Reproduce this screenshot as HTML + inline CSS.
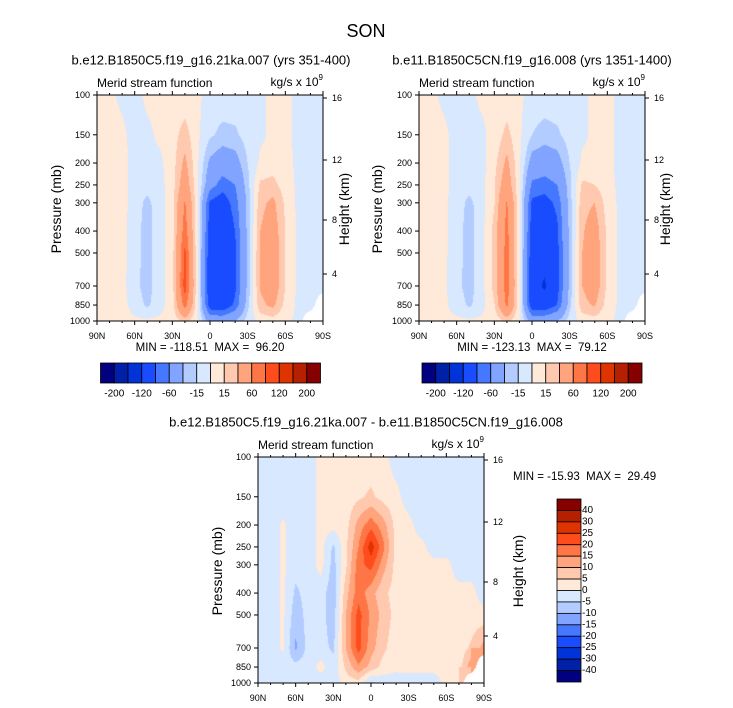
<!DOCTYPE html>
<html><head><meta charset="utf-8"><style>
body{margin:0;background:#fff;width:733px;height:708px;position:relative;overflow:hidden;font-family:"Liberation Sans",sans-serif}
canvas{position:absolute}
svg{position:absolute;left:0;top:0}
</style></head><body>
<canvas id="c1" width="226" height="226" style="left:97px;top:95px"></canvas>
<canvas id="c2" width="226" height="226" style="left:419px;top:95px"></canvas>
<canvas id="c3" width="226" height="226" style="left:258px;top:457px"></canvas>
<svg id="ov" width="733" height="708"></svg>
<script>
const lats=['90N','80N','70N','60N','50N','40N','30N','20N','10N','0','10S','20S','30S','40S','50S','60S','70S','80S','90S'];
const levels=[100,150,200,250,300,400,500,700,850,1000];
const xTicks=['90N','60N','30N','0','30S','60S','90S'];
const pTicks=[100,150,200,250,300,400,500,700,850,1000];
const hTicks=[16,12,8,4];
const hTickOffsets=[3,65,125,179];
const colors=['#000080','#0020a8','#0034d8','#1a4cff','#4578ff','#80a4ff','#b3ccff','#d8e8ff','#ffe9d8','#ffc9b0','#ffa47c','#ff7646','#ff4c1c','#e03400','#b42000','#860000'];
const bounds1=[-200,-160,-120,-80,-60,-30,-15,0,15,30,60,80,120,160,200];
const bounds3=[-40,-30,-25,-20,-15,-10,-5,0,5,10,15,20,25,30,40];
const hLabels=['-200','-120','-60','-15','15','60','120','200'];
const vLabels=['40','30','25','20','15','10','5','0','-5','-10','-15','-20','-25','-30','-40'];
const field1=[
[3,3,-3,-5,3,3,5,5,3,-5,-5,-5,-5,-3,3,3,-3,-5,-5],
[3,5,3,-5,-3,3,8,22,3,-12,-20,-18,-8,-3,3,3,-3,-5,-5],
[3,5,5,-5,-5,-3,8,35,3,-35,-45,-40,-15,3,8,5,-3,-5,-5],
[3,5,5,-5,-8,-5,8,45,3,-50,-70,-60,-20,18,20,8,-3,-5,-5],
[3,5,5,-6,-20,-5,8,62,3,-85,-95,-70,-25,25,35,12,-3,-5,-5],
[3,5,5,-8,-22,-5,8,72,3,-95,-105,-80,-25,30,42,15,-3,-5,-5],
[3,5,5,-8,-22,-5,8,85,3,-100,-110,-85,-25,32,45,15,-3,-5,-5],
[3,5,5,-10,-22,-5,8,90,3,-105,-112,-85,-25,32,45,15,-3,-5,-5],
[3,5,5,-6,-18,-5,8,70,3,-95,-100,-75,-20,25,35,10,-3,-5,null],
[3,5,5,3,3,3,5,20,3,-40,-40,-30,-8,5,8,3,-3,null,null]];
const field2=[
[3,3,-3,-5,-3,3,3,5,3,-5,-5,-5,-5,-3,3,3,-3,-5,-5],
[3,3,3,-5,-5,-3,5,20,3,-15,-22,-18,-8,-3,3,3,-3,-5,-5],
[3,3,3,-5,-5,-5,10,35,3,-40,-45,-40,-15,3,5,3,-3,-5,-5],
[3,3,3,-5,-8,-5,14,45,3,-65,-70,-60,-20,18,15,5,-3,-5,-5],
[3,3,3,-6,-20,-5,14,62,3,-85,-90,-75,-22,25,30,8,-3,-5,-5],
[3,3,3,-8,-22,-5,20,68,3,-95,-100,-85,-25,28,40,12,-3,-5,-5],
[3,3,3,-8,-22,-5,20,70,3,-100,-105,-88,-25,30,42,12,-3,-5,-5],
[3,3,3,-10,-22,-5,20,72,3,-105,-125,-90,-25,30,42,12,-3,-5,-5],
[3,3,3,-6,-18,-5,14,65,3,-100,-100,-80,-20,25,32,8,-3,-5,null],
[3,3,3,3,3,3,5,20,3,-40,-40,-30,-8,5,8,3,-3,null,null]];
const field3=[
[-3,-3,-3,-3,-3,2,2,2,2,2,2,-3,-3,-3,-3,-3,-3,-3,-3],
[-3,-3,-3,-3,-3,2,2,2,4,6,3,2,-3,-3,-3,-3,-3,-3,-3],
[-3,-3,1,-3,-3,2,2,3,12,18,12,3,2,-3,-3,-3,-3,-3,-3],
[-3,-3,1,-3,-3,2,-6,4,15,28,16,3,2,2,-3,-3,-3,-3,-3],
[-3,-3,1,-3,-3,2,-7,4,18,22,12,3,2,2,2,2,-3,-3,-3],
[-3,-3,1,-6,-3,-3,-8,8,18,12,6,3,2,2,2,2,2,2,-3],
[-3,-3,1,-8,-3,-3,-8,10,22,14,8,3,2,2,2,2,2,2,2],
[-3,-3,1,-11,-3,-3,-6,10,22,12,6,2,2,2,2,2,2,6,12],
[-3,-3,-3,-3,-3,2,-3,6,14,8,3,2,2,2,2,2,2,14,null],
[-3,-3,-3,-3,-3,-3,-3,2,3,-6,-3,-4,-3,-3,-3,2,2,null,null]];

const S=226;
function yOfP(p){return S*Math.log10(p/100);}
function colorIdx(v,b){let i=0;while(i<b.length&&v>=b[i])i++;return i;}
function drawField(id,f,b){
  const ctx=document.getElementById(id).getContext('2d');
  const img=ctx.createImageData(S,S);
  const rgb=colors.map(c=>[parseInt(c.substr(1,2),16),parseInt(c.substr(3,2),16),parseInt(c.substr(5,2),16)]);
  const ly=levels.map(yOfP);
  for(let py=0;py<S;py++){
    const y=py+0.5;let r=0;while(r<levels.length-2&&y>ly[r+1])r++;
    const ty=Math.min(1,Math.max(0,(y-ly[r])/(ly[r+1]-ly[r])));
    for(let px=0;px<S;px++){
      const fx=(px+0.5)/S*(lats.length-1);let c=Math.min(lats.length-2,Math.floor(fx));const tx=fx-c;
      const a=f[r][c],bb=f[r][c+1],cc=f[r+1][c],d=f[r+1][c+1];
      const k=(py*S+px)*4;
      let col;
      if(a===null||bb===null||cc===null||d===null){
        const v2=[a,bb,cc,d].filter(q=>q!==null);
        const ratio=((1-tx)*(1-ty)*(a===null?1:0)+tx*(1-ty)*(bb===null?1:0)+(1-tx)*ty*(cc===null?1:0)+tx*ty*(d===null?1:0));
        if(ratio>0.35||v2.length===0)col=[255,255,255];
        else col=rgb[colorIdx(v2.reduce((s,q)=>s+q,0)/v2.length,b)];
      } else {
        const v=(a*(1-tx)+bb*tx)*(1-ty)+(cc*(1-tx)+d*tx)*ty;
        col=rgb[colorIdx(v,b)];
      }
      img.data[k]=col[0];img.data[k+1]=col[1];img.data[k+2]=col[2];img.data[k+3]=255;
    }
  }
  ctx.putImageData(img,0,0);
}
drawField('c1',field1,bounds1);
drawField('c2',field2,bounds1);
drawField('c3',field3,bounds3);

const NS='http://www.w3.org/2000/svg';
const ov=document.getElementById('ov');
function el(tag,attrs,txt){const e=document.createElementNS(NS,tag);for(const k in attrs)e.setAttribute(k,attrs[k]);if(txt!==undefined)e.textContent=txt;ov.appendChild(e);return e;}
function txt(x,y,s,size,anchor,name,rot){const e=el('text',{x:x,y:y,'font-size':size,'text-anchor':anchor||'middle','dominant-baseline':'central',fill:'#000'},s);
  if(rot)e.setAttribute('transform','rotate(-90 '+x+' '+y+')');
  
  return e;}

txt(366,31,'SON',18,'middle','main-title');
function panel(x0,y0,title,tx,minmax,mmx,mmy,mmAnchor,py,hy){
  txt(tx,60+(y0-95),title,13,'middle','panel-title');
  txt(x0,y0-12,'Merid stream function',12,'start','variable-label');
  const u=txt(x0+S,y0-13,'kg/s x 10',12,'end','units-label');
  const sup=el('tspan',{dy:-5,'font-size':8},'9');
  u.appendChild(sup);
  const fr=el('rect',{x:x0,y:y0,width:S,height:S,fill:'none',stroke:'#000','stroke-width':1});
  
  
  for(let i=0;i<lats.length;i++){
    const x=x0+i*S/(lats.length-1);const len=(i%3===0)?4:2;
    const t1=el('line',{x1:x,x2:x,y1:y0+S,y2:y0+S+len,stroke:'#000'});
    
    
    const t2=el('line',{x1:x,x2:x,y1:y0,y2:y0-len,stroke:'#000'});
    
    
  }
  xTicks.forEach((l,i)=>txt(x0+i*S/(xTicks.length-1),y0+S+15,l,9,'middle','x-tick-label'));
  pTicks.forEach(p=>{const y=y0+yOfP(p);
    const t=el('line',{x1:x0-4,x2:x0,y1:y,y2:y,stroke:'#000'});
    
    
    txt(x0-7,y,String(p),9,'end','pressure-tick-label');});
  hTicks.forEach((h,i)=>{const y=y0+hTickOffsets[i];
    const t=el('line',{x1:x0+S,x2:x0+S+4,y1:y,y2:y,stroke:'#000'});
    
    
    txt(x0+S+9,y,String(h),9,'start','height-tick-label');});
  txt(py,y0+114,'Pressure (mb)',14,'middle','y-axis-title',true);
  txt(hy,y0+114,'Height (km)',14,'middle','y2-axis-title',true);
  txt(mmx,mmy,minmax,11.5,mmAnchor,'min-max-label');
}
panel(97,95,'b.e12.B1850C5.f19_g16.21ka.007 (yrs 351-400)',211,'MIN = -118.51\u00a0\u00a0MAX =\u00a0\u00a096.20',210,348,'middle',56,344);
panel(419,95,'b.e11.B1850C5CN.f19_g16.008 (yrs 1351-1400)',532,'MIN = -123.13\u00a0\u00a0MAX =\u00a0\u00a079.12',532,348,'middle',377,665);
panel(258,457,'b.e12.B1850C5.f19_g16.21ka.007 - b.e11.B1850C5CN.f19_g16.008',366,'MIN = -15.93\u00a0\u00a0MAX =\u00a0\u00a029.49',513,477,'start',217,518);
function hbar(x0){const w=220/16;
  colors.forEach((c,i)=>{const r=el('rect',{x:x0+i*w,y:363,width:w,height:20,fill:c,stroke:'#000','stroke-width':0.8});
    
    });
  hLabels.forEach((l,i)=>txt(x0+(2*i+1)*w,394,l,10,'middle','colorbar-label'));
}
hbar(100.5);hbar(422);
(function(){const y0=499,h=183/16;
  colors.slice().reverse().forEach((c,i)=>{const r=el('rect',{x:557,y:y0+i*h,width:24,height:h,fill:c,stroke:'#000','stroke-width':0.8});
    
    });
  vLabels.forEach((l,i)=>txt(582,y0+(i+1)*h,l,10,'start','colorbar-label'));
})();
</script>
</body></html>
